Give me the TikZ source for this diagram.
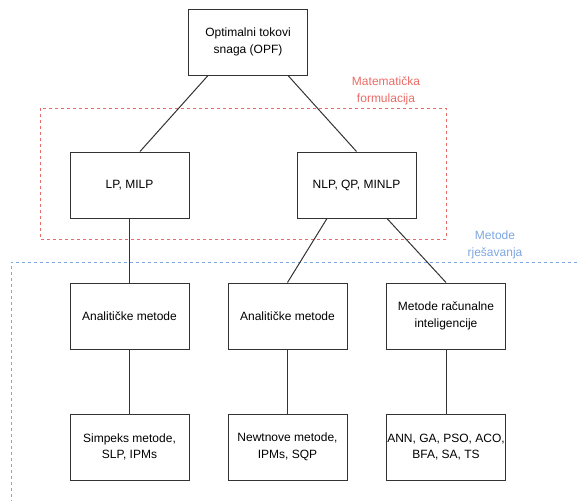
\documentclass[tikz,border=0pt]{standalone}
\usepackage{fontspec}
\setmainfont{Liberation Sans}
\usetikzlibrary{calc}
\definecolor{mfred}{HTML}{EA6B66}
\definecolor{mfblue}{HTML}{7EA6E0}
\tikzset{blok/.style={draw=black!80,line width=1pt,minimum width=119pt,minimum height=66pt,align=center,inner sep=0pt,font=\fontsize{12}{16.5}\selectfont}}
\tikzset{veza/.style={draw=black!80,line width=1pt}}
\tikzset{oznaka/.style={align=center,font=\fontsize{12}{16.5}\selectfont}}

\begin{document}
\begin{tikzpicture}[x=1pt,y=-1pt]
	\useasboundingbox (0,0) rectangle (577,501); %canvas
	% okviri
	\draw [mfred,line width=1pt,dash pattern=on 3pt off 3pt] (40,108) rectangle (446,239);
	\draw [mfblue,line width=1pt,dash pattern=on 3pt off 3pt] (577,262) -- (11,262) -- (11,501);
	\node [oznaka,text=mfred] (mat) at (386,91) {Matematička\\formulacija};
	\node [oznaka,text=mfblue] (rje) at (495,245) {Metode\\rješavanja};

	% blokovi
	\node [blok] (opf) at (248,42) {Optimalni tokovi\\snaga (OPF)};
	\node [blok] (lp) at (129.5,185) {LP, MILP};
	\node [blok] (nlp) at (356.5,185) {NLP, QP, MINLP};
	\node [blok] (an1) at (129.5,316) {Analitičke metode};
	\node [blok] (an2) at (287.5,316) {Analitičke metode};
	\node [blok] (mri) at (446,316) {Metode računalne\\inteligencije};
	\node [blok] (sim) at (129.5,447) {Simpeks metode,\\SLP, IPMs};
	\node [blok] (nwt) at (287.5,447) {Newtnove metode,\\IPMs, SQP};
	\node [blok] (ann) at (446,447) {ANN, GA, PSO, ACO,\\BFA, SA, TS};

	% veze
	\draw [veza] ([xshift=-40pt]opf.south) -- ([xshift=10.5pt]lp.north);
	\draw [veza] ([xshift=40pt]opf.south) -- (nlp.north);
	\draw [veza] (lp.south) -- (an1.north);
	\draw [veza] ([xshift=-29.5pt]nlp.south) -- (an2.north);
	\draw [veza] ([xshift=30.5pt]nlp.south) -- (mri.north);
	\draw [veza] (an1.south) -- (sim.north);
	\draw [veza] (an2.south) -- (nwt.north);
	\draw [veza] (mri.south) -- (ann.north);
\end{tikzpicture}
\end{document}
